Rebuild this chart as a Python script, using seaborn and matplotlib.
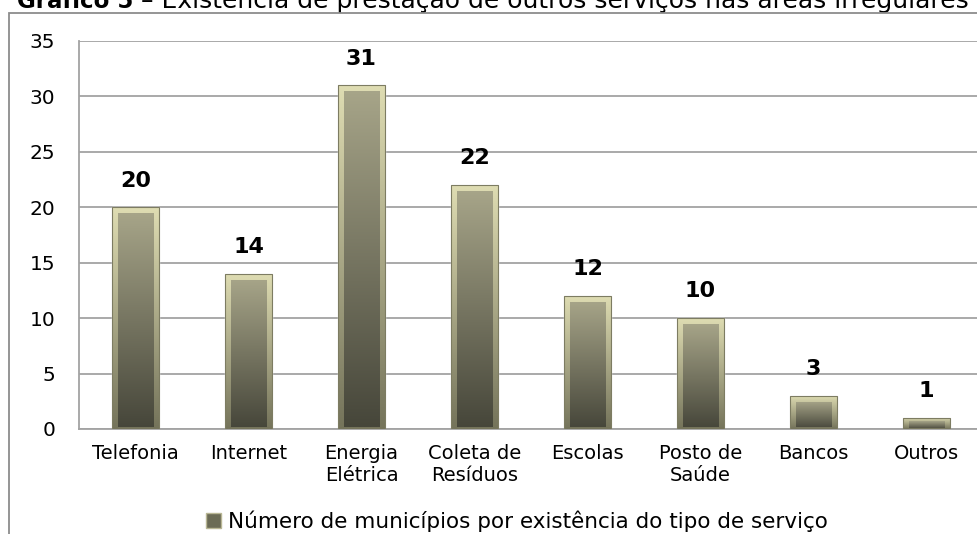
import matplotlib as mpl
mpl.use('Agg')
import matplotlib.pyplot as plt
import numpy as np
import pandas as pd
import seaborn as sns
from matplotlib.colors import to_rgb
from matplotlib.patches import Patch, Rectangle

# data
categories = ['Telefonia', 'Internet', 'Energia\nElétrica', 'Coleta de\nResíduos',
              'Escolas', 'Posto de\nSaúde', 'Bancos', 'Outros']
values = [20, 14, 31, 22, 12, 10, 3, 1]
y_ticks = [0, 5, 10, 15, 20, 25, 30, 35]
series_name = 'Número de municípios por existência do tipo de serviço'
title_bold = 'Gráfico 5'
title_rest = ' – Existência de prestação de outros serviços nas áreas irregulares'


def gradient(top, bottom, n=64):
    return np.linspace(to_rgb(top), to_rgb(bottom), n)[:, None, :]


def paint_bar(ax, bar, px_x, px_y):
    """fake the beveled office-style bar with two clipped gradients"""
    x0, y0 = bar.get_x(), bar.get_y()
    w, h = bar.get_width(), bar.get_height()
    im = ax.imshow(gradient('#dedcb2', '#75745b'), extent=(x0, x0 + w, y0, y0 + h),
                   aspect='auto', origin='upper', interpolation='bilinear', zorder=3)
    im.set_clip_path(bar)
    ix = 6 * px_x
    iy = min(6 * px_y, h * 0.3)
    ib = min(2 * px_y, h * 0.1)
    inner = Rectangle((x0 + ix, y0 + ib), w - 2 * ix, h - iy - ib, transform=ax.transData)
    im2 = ax.imshow(gradient('#a6a488', '#46463a'),
                    extent=(x0 + ix, x0 + w - ix, y0, y0 + h - iy),
                    aspect='auto', origin='upper', interpolation='bilinear', zorder=4)
    im2.set_clip_path(inner)
    ax.add_patch(Rectangle((x0, y0), w, h, fill=False, edgecolor='#7d7c62', lw=0.8, zorder=5))


sns.set_style('white')
plt.rcParams['font.family'] = ['DejaVu Sans']
plt.rcParams['text.color'] = 'black'
plt.rcParams['xtick.color'] = 'black'
plt.rcParams['ytick.color'] = 'black'

fig = plt.figure(figsize=(9.78, 5.34), dpi=100)
ax = fig.add_axes([79 / 978, 105 / 534, 904 / 978, 388 / 534])

df = pd.DataFrame({'servico': categories, 'n': values})
sns.barplot(data=df, x='servico', y='n', color='#6b6b52', width=0.42,
            saturation=1, ax=ax, zorder=2)

ax.set_xlim(-0.5, len(categories) - 0.5)
ax.set_ylim(0, 35)
ax.set_yticks(y_ticks)
ax.set_xlabel('')
ax.set_ylabel('')

px_x = len(categories) / 904
px_y = 35 / 388
for bar in list(ax.patches):
    paint_bar(ax, bar, px_x, px_y)

for i, v in enumerate(values):
    ax.annotate(str(v), (i, v), xytext=(0, 12), textcoords='offset points',
                ha='center', va='bottom', fontsize=16, fontweight='bold',
                color='black', zorder=6)

ax.set_xlim(-0.5, len(categories) - 0.5)
ax.set_ylim(0, 35)
ax.yaxis.grid(True, color='#a3a3a3', lw=1.3)
ax.set_axisbelow(True)
for side in ['top', 'right']:
    ax.spines[side].set_visible(False)
for side in ['left', 'bottom']:
    ax.spines[side].set_color('#a3a3a3')
    ax.spines[side].set_linewidth(1.3)
ax.tick_params(axis='y', length=0, labelsize=14.5, pad=17, labelcolor='black')
ax.tick_params(axis='x', length=0, labelsize=14, pad=11, labelcolor='black')

# outer chart frame (cut off by the image border on right and bottom)
fig.add_artist(Rectangle((9 / 978, -0.2), 1.2, 1.2 - 13 / 534, transform=fig.transFigure,
                         fill=False, edgecolor='#8c8c8c', lw=1.3, clip_on=False))

# title, cut off at the top like in the reference
t = fig.text(17 / 978, 1 - 8 / 534, title_bold, fontsize=16.5, fontweight='bold',
             va='baseline', color='black')
ax.annotate(title_rest, xy=(1, 0), xycoords=t, fontsize=18, va='bottom', ha='left',
            color='black', annotation_clip=False)

handle = Patch(facecolor='#6b6b55', edgecolor='#b9b795')
fig.legend(handles=[handle], labels=[series_name], loc='center',
           bbox_to_anchor=(517 / 978, 1 - 521 / 534), frameon=False, fontsize=15.5,
           handlelength=0.7, handleheight=0.7, handletextpad=0.3, labelcolor='black')

fig.savefig('out.png', dpi=100)
